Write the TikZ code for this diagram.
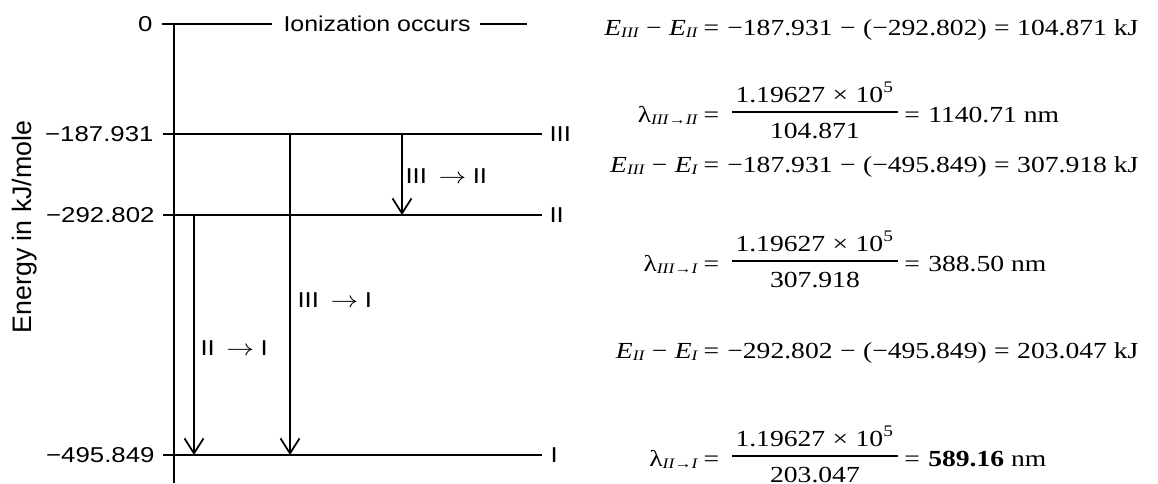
\documentclass[tikz,border=0pt]{standalone}
\usepackage{fontspec}
\usepackage{graphicx}
\setmainfont{Liberation Serif}
\newfontfamily\lsans{Liberation Sans}
\usetikzlibrary{arrows.meta,calc}
\newcommand\sxs[1]{\scalebox{1.2}[1]{#1}}
\newcommand\sop[1]{\hspace{0.27em}#1\hspace{0.27em}}
\newcommand\esub[1]{\raisebox{-0.9pt}{\fontsize{5.8}{6}\selectfont\itshape #1}}
\begin{document}
\begin{tikzpicture}[x=0.4pt,y=-0.4pt,
  lvl/.style={line width=0.7pt},
  fbar/.style={line width=0.5pt},
  trans/.style={line width=0.7pt,-{Straight Barb[length=6pt,width=7.6pt,line width=0.7pt]}},
  slbl/.style={inner sep=0pt, font=\lsans\fontsize{8.6}{10}\selectfont},
  eqn/.style={inner sep=0pt, font=\fontsize{9.2}{11}\selectfont}]
\useasboundingbox (0,0) rectangle (1158,483);

% axis label
\node[rotate=90, inner sep=0pt, font=\lsans\fontsize{10.7}{12}\selectfont] (ylab) at (25,227) {Energy in kJ/mole};

% coordinates
\coordinate (ax0) at (174,24);
\coordinate (axb) at (174,483);
\coordinate (t0) at (162,24);
\coordinate (z1) at (272,24);
\coordinate (z2) at (480,24);
\coordinate (z3) at (527,24);
\coordinate (L3a) at (163,134); \coordinate (L3b) at (542,134);
\coordinate (L2a) at (163,215); \coordinate (L2b) at (542,215);
\coordinate (L1a) at (163,455); \coordinate (L1b) at (542,455);

\draw[lvl] (ax0) -- (axb);
\draw[lvl] (t0) -- (z1);
\draw[lvl] (z2) -- (z3);
\draw[lvl] (L3a) -- (L3b);
\draw[lvl] (L2a) -- (L2b);
\draw[lvl] (L1a) -- (L1b);

\node[slbl, anchor=west] (ion) at (283,24) {\scalebox{1.16}[1]{Ionization occurs}};

% tick labels
\node[slbl, anchor=east] (v0) at (153,24) {\sxs{0}};
\node[slbl, anchor=east] (v3) at (154,134) {\sxs{−187.931}};
\node[slbl, anchor=east] (v2) at (155,215) {\sxs{−292.802}};
\node[slbl, anchor=east] (v1) at (155,455) {\sxs{−495.849}};

% level names
\node[slbl, anchor=west] (n3) at (549,134) {\sxs{III}};
\node[slbl, anchor=west] (n2) at (549,215) {\sxs{II}};
\node[slbl, anchor=west] (n1) at (550,455) {\sxs{I}};

% transitions
\coordinate (a32s) at (402,134); \coordinate (a32e) at (402,215);
\coordinate (a31s) at (290,134); \coordinate (a31e) at (290,455);
\coordinate (a21s) at (194,215); \coordinate (a21e) at (194,455);
\draw[trans] (a32s) -- (a32e);
\draw[trans] (a31s) -- (a31e);
\draw[trans] (a21s) -- (a21e);
\node[slbl, anchor=west] (l32) at (405,176) {\sxs{III\hspace{0.45em}$\rightarrow$\hspace{0.25em}II}};
\node[slbl, anchor=west] (l31) at (297,300) {\sxs{III\hspace{0.45em}$\rightarrow$\hspace{0.25em}I}};
\node[slbl, anchor=west] (l21) at (200,348) {\sxs{II\hspace{0.45em}$\rightarrow$\hspace{0.25em}I}};

% ---- equations ----
% row 1
\node[eqn, anchor=base east] (e1l) at (698,35) {\sxs{\textit{E}\esub{III}\sop{−}\textit{E}\esub{II}}};
\node[eqn, anchor=base west] (e1r) at (703,35) {\sxs{=\hspace{0.3em}−187.931\sop{−}(−292.802)\sop{=}104.871 kJ}};
% row 2
\node[eqn, anchor=base east] (e2l) at (698,122) {\sxs{λ\esub{III→II}}};
\node[eqn, anchor=base west] (e2q) at (703,122) {\sxs{=}};
\node[eqn, anchor=base west] (e2n) at (735,102) {\sxs{1.19627\sop{×}10\textsuperscript{5}}};
\node[eqn, anchor=base] (e2d) at ($(e2n.base)+(0,36)$) {\sxs{104.871}};
\draw[fbar] ($(e2n.base west)+(-3,10)$) -- ($(e2n.base east)+(3,10)$);
\node[eqn, anchor=base west] (e2r) at ($(e2n.base east)+(9,20)$) {\sxs{=\hspace{0.3em}1140.71 nm}};
% row 3
\node[eqn, anchor=base east] (e3l) at (698,172) {\sxs{\textit{E}\esub{III}\sop{−}\textit{E}\esub{I}}};
\node[eqn, anchor=base west] (e3r) at (703,172) {\sxs{=\hspace{0.3em}−187.931\sop{−}(−495.849)\sop{=}307.918 kJ}};
% row 4
\node[eqn, anchor=base east] (e4l) at (698,271) {\sxs{λ\esub{III→I}}};
\node[eqn, anchor=base west] (e4q) at (703,271) {\sxs{=}};
\node[eqn, anchor=base west] (e4n) at (735,251) {\sxs{1.19627\sop{×}10\textsuperscript{5}}};
\node[eqn, anchor=base] (e4d) at ($(e4n.base)+(0,36)$) {\sxs{307.918}};
\draw[fbar] ($(e4n.base west)+(-3,10)$) -- ($(e4n.base east)+(3,10)$);
\node[eqn, anchor=base west] (e4r) at ($(e4n.base east)+(9,20)$) {\sxs{=\hspace{0.3em}388.50 nm}};
% row 5
\node[eqn, anchor=base east] (e5l) at (698,358) {\sxs{\textit{E}\esub{II}\sop{−}\textit{E}\esub{I}}};
\node[eqn, anchor=base west] (e5r) at (703,358) {\sxs{=\hspace{0.3em}−292.802\sop{−}(−495.849)\sop{=}203.047 kJ}};
% row 6
\node[eqn, anchor=base east] (e6l) at (698,466) {\sxs{λ\esub{II→I}}};
\node[eqn, anchor=base west] (e6q) at (703,466) {\sxs{=}};
\node[eqn, anchor=base west] (e6n) at (735,446) {\sxs{1.19627\sop{×}10\textsuperscript{5}}};
\node[eqn, anchor=base] (e6d) at ($(e6n.base)+(0,36)$) {\sxs{203.047}};
\draw[fbar] ($(e6n.base west)+(-3,10)$) -- ($(e6n.base east)+(3,10)$);
\node[eqn, anchor=base west] (e6r) at ($(e6n.base east)+(9,20)$) {\sxs{=\hspace{0.3em}\textbf{589.16} nm}};
\end{tikzpicture}
\end{document}
